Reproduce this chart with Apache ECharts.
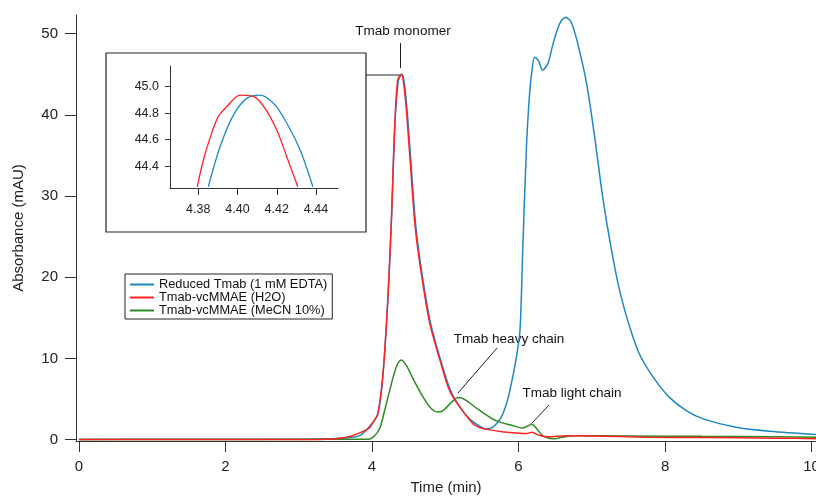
<!DOCTYPE html>
<html>
<head>
<meta charset="utf-8">
<script src="https://cdn.jsdelivr.net/npm/echarts@6/dist/echarts.min.js"></script>
<style>
html, body {margin: 0; padding: 0; background: #fff;}
#chart {width: 816px; height: 497px;}
</style>
</head>
<body>
<div id="chart"></div>
<script>
// 色谱图数据 (时间 min, 吸光度 mAU)
const seriesNames = ['Reduced Tmab (1 mM EDTA)', 'Tmab-vcMMAE (H2O)', 'Tmab-vcMMAE (MeCN 10%)']
const colors = ['#1f88c2', '#ff2222', '#2e8a22']

const blueTime = [0, 1.0, 2.0, 3.0, 3.4, 3.6, 3.83, 4.0, 4.08, 4.15, 4.22, 4.27, 4.31, 4.36, 4.41, 4.44, 4.48, 4.53, 4.60, 4.69, 4.80, 4.94, 5.07, 5.20, 5.35, 5.48, 5.56, 5.64, 5.74, 5.82, 5.88, 5.97, 6.02, 6.06, 6.11, 6.15, 6.18, 6.22, 6.27, 6.33, 6.40, 6.47, 6.56, 6.64, 6.72, 6.81, 6.93, 7.04, 7.15, 7.27, 7.38, 7.52, 7.65, 7.84, 8.06, 8.29, 8.52, 8.97, 9.43, 10.06]
const blueAbs = [0, 0.05, 0.05, 0.05, 0.1, 0.2, 0.5, 2.0, 3.1, 8.0, 17.9, 28.2, 38.5, 44.2, 45.0, 44.0, 40.5, 34.4, 26.1, 20.0, 14.3, 9.7, 6.1, 4.0, 2.4, 1.6, 1.3, 1.5, 2.4, 4.0, 6.0, 10.1, 13.5, 24.1, 36.4, 42.5, 45.2, 47.1, 46.7, 45.5, 46.3, 48.7, 51.2, 52.0, 51.4, 48.7, 43.8, 37.2, 29.8, 23.3, 18.35, 13.8, 10.55, 7.67, 5.2, 3.57, 2.55, 1.51, 1.02, 0.62]

const redTime = [0, 3.0, 3.38, 3.6, 3.74, 3.9, 3.97, 4.02, 4.08, 4.15, 4.22, 4.27, 4.31, 4.35, 4.40, 4.43, 4.47, 4.52, 4.59, 4.68, 4.79, 4.93, 5.06, 5.20, 5.38, 5.47, 5.61, 5.80, 5.93, 6.11, 6.18, 6.29, 6.40, 6.65, 7.0, 7.74, 8.5, 9.5, 10.06]
const redAbs = [0, 0.02, 0.05, 0.2, 0.5, 1.1, 1.5, 2.2, 3.2, 8.1, 17.9, 28.2, 38.5, 44.2, 45.0, 44.0, 40.5, 34.4, 26.1, 20.0, 14.25, 9.7, 6.0, 4.0, 1.93, 1.5, 1.2, 0.95, 0.85, 0.75, 0.9, 0.5, 0.35, 0.48, 0.45, 0.3, 0.25, 0.18, 0.12]

const greenTime = [0, 3.95, 4.04, 4.11, 4.17, 4.24, 4.33, 4.40, 4.47, 4.56, 4.70, 4.81, 4.90, 4.96, 5.02, 5.11, 5.17, 5.23, 5.29, 5.47, 5.70, 5.93, 6.06, 6.13, 6.18, 6.24, 6.33, 6.47, 6.59, 6.74, 7.5, 8.5, 9.5, 10.06]
const greenAbs = [0, 0.05, 0.5, 1.5, 3.5, 6.0, 8.9, 9.8, 9.1, 7.5, 5.2, 3.8, 3.4, 3.5, 4.0, 4.8, 5.2, 5.1, 4.8, 3.6, 2.3, 1.7, 1.44, 1.7, 1.93, 1.44, 0.49, 0.1, 0.28, 0.49, 0.45, 0.4, 0.35, 0.3]

// 插图 (峰顶放大)
const insetBlueTime = [4.3851, 4.3911, 4.3979, 4.4047, 4.4115, 4.4183, 4.4242, 4.4319, 4.4384]
const insetBlueAbs = [44.245, 44.547, 44.786, 44.912, 44.937, 44.875, 44.749, 44.522, 44.245]
const insetRedTime = [4.3795, 4.3826, 4.3868, 4.3902, 4.3945, 4.4013, 4.4084, 4.4140, 4.4200, 4.4251, 4.4307]
const insetRedAbs = [44.245, 44.447, 44.648, 44.774, 44.849, 44.937, 44.925, 44.837, 44.673, 44.472, 44.245]

const xTicks = [0, 2, 4, 6, 8, 10]
const yTicks = [0, 10, 20, 30, 40, 50]
const insetXTicks = [4.38, 4.40, 4.42, 4.44]
const insetYTicks = [44.4, 44.6, 44.8, 45.0]

const pairs = (t, a) => t.map((v, i) => [v, a[i]])
const font = 'Liberation Sans, Arial, sans-serif'
const axisColor = '#333'

const chart = echarts.init(document.getElementById('chart'), null, {renderer: 'canvas'})

function lineSeries (name, data, color, xi, width) {
    return {
        name: name,
        type: 'line',
        xAxisIndex: xi,
        yAxisIndex: xi,
        data: data,
        symbol: 'none',
        smooth: 0.3,
        clip: true,
        silent: true,
        lineStyle: {color: color, width: width},
        itemStyle: {color: color}
    }
}

const option = {
    animation: false,
    backgroundColor: '#fff',
    textStyle: {fontFamily: font},
    legend: {
        orient: 'vertical',
        left: 125,
        top: 274,
        icon: 'rect',
        itemWidth: 24,
        itemHeight: 2,
        itemGap: 0,
        padding: [4, 5, 2, 5],
        borderColor: '#222',
        borderWidth: 1,
        data: seriesNames,
        textStyle: {fontSize: 12.8, lineHeight: 12.5, color: '#111', fontFamily: font}
    },
    grid: [
        {left: 76, right: 0, top: 15, bottom: 56, outerBoundsMode: 'none', containLabel: false},
        {left: 170, top: 66, width: 168, height: 122, outerBoundsMode: 'none', containLabel: false}
    ],
    xAxis: [{
        type: 'value',
        min: -0.04,
        max: 10.06,
        name: 'Time (min)',
        nameLocation: 'middle',
        nameGap: 39,
        nameTextStyle: {fontSize: 15, color: '#222', fontFamily: font},
        axisLine: {onZero: false, lineStyle: {color: axisColor, width: 1}},
        axisTick: {show: true, length: 11, lineStyle: {color: axisColor}, customValues: xTicks},
        axisLabel: {fontSize: 15, color: '#222', margin: 18, customValues: xTicks, fontFamily: font},
        splitLine: {show: false}
    }, {
        type: 'value',
        gridIndex: 1,
        min: 4.3656,
        max: 4.4512,
        axisLine: {onZero: false, lineStyle: {color: axisColor, width: 1}},
        axisTick: {show: true, length: 7, lineStyle: {color: axisColor}, customValues: insetXTicks},
        axisLabel: {fontSize: 12.5, color: '#222', margin: 15, customValues: insetXTicks,
            formatter: v => v.toFixed(2), fontFamily: font},
        splitLine: {show: false}
    }],
    yAxis: [{
        type: 'value',
        min: -0.17,
        max: 52.29,
        name: 'Absorbance (mAU)',
        nameLocation: 'middle',
        nameGap: 50,
        nameTextStyle: {fontSize: 15, color: '#222', fontFamily: font},
        axisLine: {show: true, onZero: false, lineStyle: {color: axisColor, width: 1}},
        axisTick: {show: true, length: 11, lineStyle: {color: axisColor}, customValues: yTicks},
        axisLabel: {fontSize: 15, color: '#222', margin: 18, customValues: yTicks, fontFamily: font},
        splitLine: {show: false}
    }, {
        type: 'value',
        gridIndex: 1,
        min: 44.236,
        max: 45.156,
        axisLine: {show: true, onZero: false, lineStyle: {color: axisColor, width: 1}},
        axisTick: {show: true, length: 5, lineStyle: {color: axisColor}, customValues: insetYTicks},
        axisLabel: {fontSize: 12.5, color: '#222', margin: 11, customValues: insetYTicks,
            formatter: v => v.toFixed(1), fontFamily: font},
        splitLine: {show: false}
    }],
    graphic: [
        { // 插图边框
            type: 'rect',
            shape: {x: 106, y: 53, width: 260, height: 179},
            style: {fill: 'transparent', stroke: '#222', lineWidth: 1.2},
            silent: true
        },
        { // 插图到峰顶的连接线
            type: 'polyline',
            shape: {points: [[366, 75], [400, 75]]},
            style: {stroke: '#222', lineWidth: 1},
            silent: true
        },
        {type: 'line', shape: {x1: 400.5, y1: 43, x2: 400.5, y2: 68}, style: {stroke: '#222', lineWidth: 1}, silent: true},
        {type: 'text', x: 403, y: 31, style: {text: 'Tmab monomer', fontSize: 13.5, fontFamily: font, fill: '#111', align: 'center', verticalAlign: 'middle'}},
        {type: 'line', shape: {x1: 497, y1: 348, x2: 458, y2: 393}, style: {stroke: '#222', lineWidth: 1}, silent: true},
        {type: 'text', x: 509, y: 339, style: {text: 'Tmab heavy chain', fontSize: 13.5, fontFamily: font, fill: '#111', align: 'center', verticalAlign: 'middle'}},
        {type: 'line', shape: {x1: 549, y1: 405, x2: 532, y2: 423}, style: {stroke: '#222', lineWidth: 1}, silent: true},
        {type: 'text', x: 572, y: 393, style: {text: 'Tmab light chain', fontSize: 13.5, fontFamily: font, fill: '#111', align: 'center', verticalAlign: 'middle'}}
    ],
    series: [
        lineSeries(seriesNames[0], pairs(blueTime, blueAbs), colors[0], 0, 1.5),
        lineSeries(seriesNames[2], pairs(greenTime, greenAbs), colors[2], 0, 1.5),
        lineSeries(seriesNames[1], pairs(redTime, redAbs), colors[1], 0, 1.5),
        lineSeries('inset-blue', pairs(insetBlueTime, insetBlueAbs), colors[0], 1, 1.3),
        lineSeries('inset-red', pairs(insetRedTime, insetRedAbs), colors[1], 1, 1.3)
    ]
}
chart.setOption(option)
</script>
</body>
</html>
